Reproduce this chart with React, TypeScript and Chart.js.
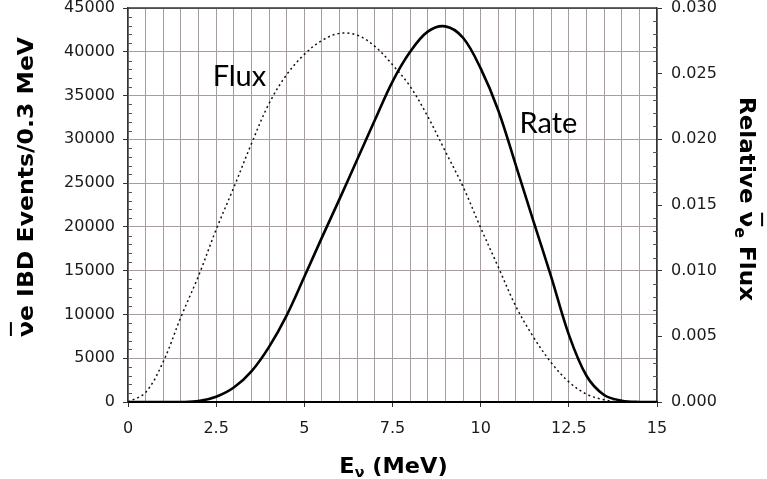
import React, { useEffect, useRef } from 'react';
import { Chart, registerables } from 'chart.js';

Chart.register(...registerables);

// ---- Data ----
const energies = [
  0, 0.5, 1, 1.5, 2, 2.5, 3, 3.5, 4, 4.5, 5, 5.5, 6, 6.5, 7, 7.5,
  8, 8.5, 9, 9.5, 10, 10.5, 11, 11.5, 12, 12.5, 13, 13.5, 14, 14.5, 15,
];

// IBD events per 0.3 MeV (left axis)
const rateEvents = [
  0, 0, 0, 0, 100, 600, 1650, 3500, 6300, 9900, 14300, 18800, 23200, 27700, 32200, 36600,
  40000, 42300, 42900, 41600, 38100, 33300, 27000, 20600, 14300, 7700, 3000, 800, 150, 0, 0,
];

// Relative antineutrino flux (right axis)
const relativeFlux = [
  0, 0.00073, 0.00307, 0.00647, 0.0096, 0.01313, 0.01633, 0.01967, 0.02273, 0.02493, 0.02647,
  0.02753, 0.02807, 0.02793, 0.02708, 0.02568, 0.02403, 0.02174, 0.01907, 0.0164, 0.01327,
  0.01027, 0.00727, 0.00493, 0.003, 0.00153, 0.0006, 0.00017, 0, 0, 0,
];

const xTickLabels = ['0', '2.5', '5', '7.5', '10', '12.5', '15'];
const yMinorStep = 1000;
const y1MinorStep = 0.001;

// annotation anchors in data units
const fluxLabel = { text: 'Flux', e: 2.4, v: 36120 };
const rateLabel = { text: 'Rate', e: 11.1, v: 30740 };

const FONT = '"DejaVu Sans", Verdana, sans-serif';
const GRID = '#a69da0';
const AXIS = '#333333';

type Seg = { text: string; size: number; shift: number; bar?: boolean };

function drawRich(
  ctx: CanvasRenderingContext2D,
  cx: number,
  cy: number,
  angle: number,
  segs: Seg[],
  baseSize: number,
  stretch: number
) {
  ctx.save();
  ctx.translate(cx, cy);
  ctx.rotate(angle);
  ctx.scale(stretch, 1);
  ctx.textBaseline = 'alphabetic';
  ctx.textAlign = 'left';
  ctx.fillStyle = '#000';
  const widths = segs.map((s) => {
    ctx.font = `bold ${s.size}px ${FONT}`;
    return ctx.measureText(s.text).width;
  });
  const total = widths.reduce((a, b) => a + b, 0);
  let x = -total / 2;
  segs.forEach((s, i) => {
    ctx.font = `bold ${s.size}px ${FONT}`;
    ctx.fillText(s.text, x, s.shift);
    if (s.bar) {
      ctx.fillRect(x + 1, -baseSize * 1.05, widths[i] - 2, 2);
    }
    x += widths[i];
  });
  ctx.restore();
}

const decorPlugin = {
  id: 'decor',
  afterDraw(chart: any) {
    const { ctx, chartArea, scales } = chart;
    const { left, right, top } = chartArea;
    ctx.save();
    // top frame line
    ctx.strokeStyle = AXIS;
    ctx.lineWidth = 1.5;
    ctx.beginPath();
    ctx.moveTo(left, top);
    ctx.lineTo(right, top);
    ctx.stroke();

    // minor ticks inside
    ctx.lineWidth = 1;
    ctx.strokeStyle = '#555';
    const y = scales.y;
    for (let v = y.min; v <= y.max + 1e-9; v += yMinorStep) {
      if (Math.abs(v % 5000) < 1e-6) continue;
      const py = Math.round(y.getPixelForValue(v)) + 0.5;
      ctx.beginPath();
      ctx.moveTo(left, py);
      ctx.lineTo(left + 4, py);
      ctx.stroke();
    }
    const y1 = scales.y1;
    const n = Math.round((y1.max - y1.min) / y1MinorStep);
    for (let i = 0; i <= n; i++) {
      if (i % 5 === 0) continue;
      const py = Math.round(y1.getPixelForValue(i * y1MinorStep)) + 0.5;
      ctx.beginPath();
      ctx.moveTo(right - 4, py);
      ctx.lineTo(right, py);
      ctx.stroke();
    }

    // annotations
    ctx.fillStyle = '#000';
    ctx.font = `29px Lato, "Open Sans", sans-serif`;
    ctx.textBaseline = 'alphabetic';
    ctx.textAlign = 'left';
    const x = scales.x;
    for (const a of [fluxLabel, rateLabel]) {
      ctx.fillText(a.text, x.getPixelForValue(a.e), y.getPixelForValue(a.v));
    }
    ctx.restore();

    // axis titles
    const S = 22;
    drawRich(
      ctx,
      33,
      187,
      -Math.PI / 2,
      [
        { text: 'ν', size: S, shift: 0, bar: true },
        { text: 'e IBD Events/0.3 MeV', size: S, shift: 0 },
      ],
      S,
      1.07
    );
    drawRich(
      ctx,
      740,
      199,
      Math.PI / 2,
      [
        { text: 'Relative ', size: S, shift: 0 },
        { text: 'ν', size: S, shift: 0, bar: true },
        { text: 'e', size: 15, shift: 5 },
        { text: ' Flux', size: S, shift: 0 },
      ],
      S,
      1.05
    );
    drawRich(
      ctx,
      (left + right) / 2 + 1,
      473,
      0,
      [
        { text: 'E', size: S, shift: 0 },
        { text: 'ν', size: 14, shift: 4 },
        { text: ' (MeV)', size: S, shift: 0 },
      ],
      S,
      1.02
    );
  },
};

export default function App() {
  const canvasRef = useRef<HTMLCanvasElement | null>(null);

  useEffect(() => {
    const canvas = canvasRef.current;
    if (!canvas) return;
    const tickFont = { family: FONT, size: 16 };
    const chart = new Chart(canvas, {
      type: 'line',
      data: {
        datasets: [
          {
            label: 'Rate',
            data: energies.map((e, i) => ({ x: e, y: rateEvents[i] })),
            yAxisID: 'y',
            borderColor: '#000',
            borderWidth: 2.6,
            pointRadius: 0,
            tension: 0.35,
            fill: false,
          },
          {
            label: 'Flux',
            data: energies.map((e, i) => ({ x: e, y: relativeFlux[i] })),
            yAxisID: 'y1',
            borderColor: '#111',
            borderWidth: 1.5,
            borderDash: [2, 3],
            pointRadius: 0,
            tension: 0.35,
            fill: false,
          },
        ],
      },
      options: {
        responsive: false,
        animation: false,
        devicePixelRatio: 1,
        layout: { padding: { top: 8, left: 0, right: 0, bottom: 0 } },
        plugins: {
          legend: { display: false },
          tooltip: { enabled: false },
        },
        scales: {
          x: {
            type: 'linear',
            min: 0,
            max: 15,
            afterFit: (s: any) => {
              s.height = 77;
              s.paddingLeft = 0;
              s.paddingRight = 0;
            },
            ticks: {
              stepSize: 0.5,
              autoSkip: false,
              maxRotation: 0,
              minRotation: 0,
              padding: 12,
              color: '#1a1a1a',
              font: tickFont,
              callback: (v: any) => {
                const s = String(Number(Number(v).toFixed(1)));
                return xTickLabels.includes(s) ? s : '';
              },
            },
            grid: {
              color: GRID,
              lineWidth: 1,
              tickLength: 5,
              tickColor: (c: any) => {
                const s = String(Number(Number(c.tick?.value ?? 0).toFixed(1)));
                return xTickLabels.includes(s) ? AXIS : 'rgba(0,0,0,0)';
              },
            },
            border: { color: '#000', width: 2 },
          },
          y: {
            type: 'linear',
            position: 'left',
            min: 0,
            max: 45000,
            afterFit: (s: any) => {
              s.width = 128;
              s.paddingTop = 0;
              s.paddingBottom = 0;
            },
            ticks: {
              stepSize: 5000,
              padding: 8,
              color: '#1a1a1a',
              font: tickFont,
              callback: (v: any) => String(v),
            },
            grid: { color: GRID, lineWidth: 1, tickLength: 5, tickColor: AXIS },
            border: { color: AXIS, width: 1.5 },
          },
          y1: {
            type: 'linear',
            position: 'right',
            min: 0,
            max: 0.03,
            afterFit: (s: any) => {
              s.width = 110;
              s.paddingTop = 0;
              s.paddingBottom = 0;
            },
            ticks: {
              stepSize: 0.005,
              padding: 9,
              color: '#1a1a1a',
              font: tickFont,
              callback: (v: any) => Number(v).toFixed(3),
            },
            grid: { drawOnChartArea: false, tickLength: 5, tickColor: AXIS },
            border: { color: AXIS, width: 1.5 },
          },
        },
      } as any,
      plugins: [decorPlugin],
    });
    return () => chart.destroy();
  }, []);

  return (
    <div style={{ position: 'absolute', left: 0, top: 0, width: 767, height: 479, background: '#fff' }}>
      <canvas ref={canvasRef} width={767} height={479} style={{ display: 'block' }} />
    </div>
  );
}
